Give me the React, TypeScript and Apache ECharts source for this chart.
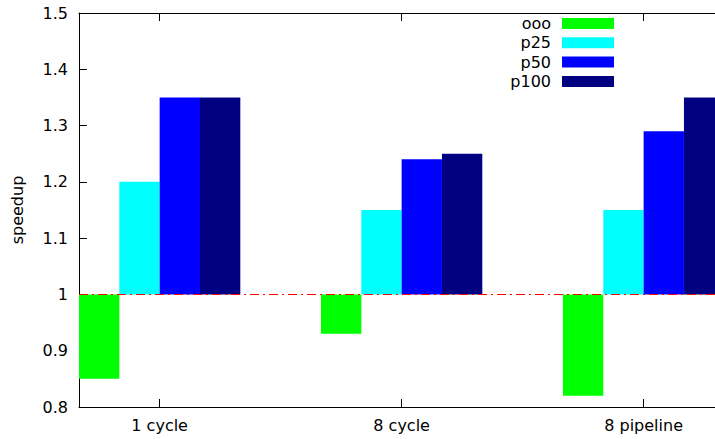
import React, { useEffect, useRef } from "react";
import * as echarts from "echarts";

const categories = ["1 cycle", "8 cycle", "8 pipeline"];
const seriesNames = ["ooo", "p25", "p50", "p100"];
const oooValues = [0.85, 0.93, 0.82];
const p25Values = [1.2, 1.15, 1.15];
const p50Values = [1.35, 1.24, 1.29];
const p100Values = [1.35, 1.25, 1.35];
const seriesColors = ["#00ff00", "#00ffff", "#0000ff", "#000080"];
const baseline = 1;
const yTicks = [0.8, 0.9, 1.0, 1.1, 1.2, 1.3, 1.4, 1.5];
const xMin = -1 / 3;
const xMax = 2.295;

const FONT = "DejaVu Sans";

export default function App() {
  const ref = useRef<HTMLDivElement>(null);

  useEffect(() => {
    document.body.style.margin = "0";
    if (!ref.current) return;
    const chart = echarts.init(ref.current, null, { renderer: "svg" });
    const allValues = [oooValues, p25Values, p50Values, p100Values];
    const nSeries = allValues.length;
    const barW = 1 / 6;

    const series: any[] = allValues.map((vals, s) => ({
      type: "custom",
      name: seriesNames[s],
      itemStyle: { color: seriesColors[s] },
      encode: { x: 0, y: 1 },
      clip: false,
      data: vals.map((v, i) => [i, v]),
      renderItem: (params: any, api: any) => {
        const x = api.value(0);
        const v = api.value(1);
        const x0 = x - (nSeries / 2) * barW + s * barW;
        const p0 = api.coord([x0, baseline]);
        const p1 = api.coord([x0 + barW, v]);
        return {
          type: "rect",
          shape: {
            x: p0[0],
            y: Math.min(p0[1], p1[1]),
            width: p1[0] - p0[0],
            height: Math.abs(p1[1] - p0[1]),
          },
          style: { fill: seriesColors[s] },
        };
      },
      z: 2,
    }));

    series.push({
      type: "line",
      data: [],
      silent: true,
      markLine: {
        silent: true,
        symbol: "none",
        label: { show: false },
        lineStyle: { color: "#ff0000", width: 1, type: [9, 4, 2, 4] },
        data: [{ yAxis: baseline }],
      },
      z: 5,
    });

    const axisLine = { show: true, onZero: false, lineStyle: { color: "#000", width: 1 } };

    chart.setOption({
      animation: false,
      textStyle: { fontFamily: FONT },
      grid: { left: 79, top: 13, right: 0, height: 394, containLabel: false },
      legend: {
        orient: "vertical",
        align: "right",
        right: 101,
        top: 15.5,
        padding: 0,
        itemWidth: 52,
        itemHeight: 11,
        itemGap: 3.3,
        icon: "rect",
        data: seriesNames,
        textStyle: { fontFamily: FONT, fontSize: 16, color: "#000", padding: [0, 6, 0, 0] },
      },
      xAxis: [
        {
          type: "value",
          position: "bottom",
          min: xMin,
          max: xMax,
          axisLine,
          splitLine: { show: false },
          axisTick: {
            show: true,
            inside: true,
            length: 8,
            customValues: [0, 1, 2],
            lineStyle: { color: "#000" },
          },
          axisLabel: {
            customValues: [0, 1, 2],
            formatter: (v: number) => categories[Math.round(v)] ?? "",
            fontFamily: FONT,
            fontSize: 16,
            color: "#000",
            margin: 10,
          },
        },
        {
          type: "value",
          position: "top",
          min: xMin,
          max: xMax,
          axisLine,
          splitLine: { show: false },
          axisTick: {
            show: true,
            inside: true,
            length: 8,
            customValues: [0, 1, 2],
            lineStyle: { color: "#000" },
          },
          axisLabel: { show: false },
        },
      ],
      yAxis: {
        type: "value",
        min: yTicks[0],
        max: yTicks[yTicks.length - 1],
        interval: 0.1,
        name: "speedup",
        nameLocation: "middle",
        nameGap: 54,
        nameTextStyle: { fontFamily: FONT, fontSize: 16, color: "#000" },
        axisLine,
        splitLine: { show: false },
        axisTick: { show: true, inside: true, length: 8, lineStyle: { color: "#000" } },
        axisLabel: {
          formatter: (v: number) => String(parseFloat(v.toFixed(1))),
          fontFamily: FONT,
          fontSize: 16,
          color: "#000",
          margin: 11,
        },
      },
      series,
    });

    return () => chart.dispose();
  }, []);

  return <div ref={ref} style={{ width: 715, height: 439 }} />;
}
